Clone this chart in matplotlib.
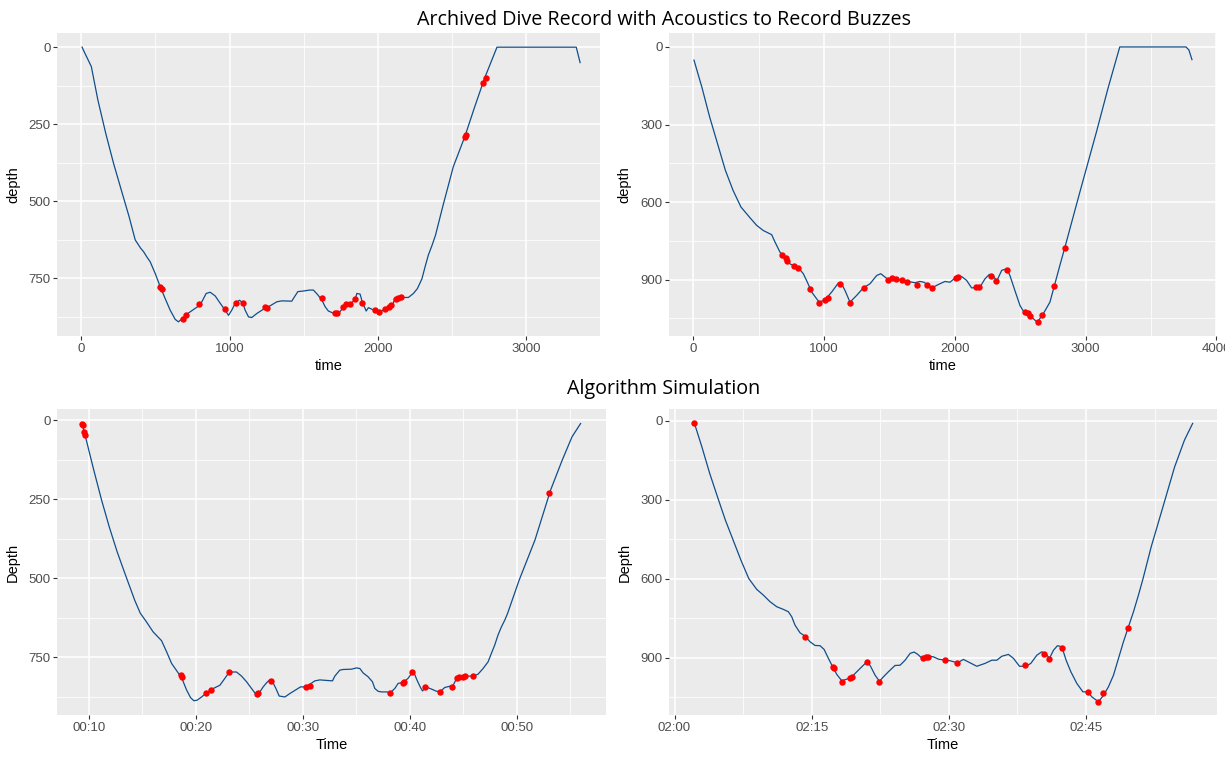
import matplotlib
matplotlib.use("Agg")
import matplotlib.pyplot as plt

plt.rcParams['font.family'] = ['Liberation Sans', 'DejaVu Sans']

# ---------------- data ----------------
# archived dive, seconds vs metres
arch1_t = [5, 12, 67, 111, 164, 217, 269, 322, 363, 401, 419, 441, 464, 498, 532, 565, 599, 633,
           655, 689, 712, 790, 813, 842, 869, 903, 937, 970, 993, 1015, 1038, 1067, 1089, 1105,
           1128, 1150, 1184, 1229, 1274, 1319, 1353, 1420, 1438, 1461, 1499, 1540, 1566, 1593,
           1623, 1645, 1667, 1701, 1735, 1769, 1791, 1825, 1848, 1859, 1881, 1897, 1910, 1922,
           1937, 1960, 1982, 2011, 2043, 2079, 2102, 2113, 2140, 2163, 2207, 2241, 2268, 2298,
           2320, 2342, 2365, 2390, 2440, 2510, 2588, 2655, 2721, 2805, 3195, 3340, 3366]
arch1_d = [0, 8, 63, 171, 279, 377, 463, 550, 625, 653, 663, 680, 696, 734, 777, 815, 853, 883,
           891, 877, 866, 840, 826, 799, 795, 807, 831, 853, 870, 853, 831, 821, 829, 853,
           875, 877, 864, 850, 839, 826, 823, 824, 810, 793, 791, 788, 788, 802,
           820, 842, 856, 863, 864, 844, 831, 829, 818, 799, 801, 829, 842, 856,
           845, 850, 855, 860, 851, 842, 837, 818, 813, 812, 812, 799, 783, 752,
           712, 674, 645, 610, 515, 388, 290, 193, 101, 0, 0, 0, 50]
buzz1_t = [532, 541, 683, 703, 797, 967, 1041, 1088, 1236, 1254, 1621, 1709, 1724, 1769, 1785,
           1810, 1848, 1897, 1979, 2011, 2048, 2079, 2088, 2122, 2136, 2158, 2588, 2595, 2712, 2729]
buzz1_d = [778, 786, 883, 870, 834, 851, 831, 831, 844, 847, 815, 864, 864, 844, 834,
           833, 818, 831, 854, 860, 851, 843, 838, 818, 814, 812, 290, 285, 117, 101]

arch2_t = [5, 65, 125, 185, 245, 304, 364, 434, 484, 535, 599, 625, 663, 701, 739, 803, 841, 872,
           905, 943, 963, 1007, 1058, 1109, 1134, 1160, 1198, 1249, 1300, 1351, 1402, 1433, 1466,
           1491, 1529, 1593, 1644, 1695, 1733, 1764, 1823, 1873, 1924, 1963, 2001, 2052, 2090,
           2128, 2192, 2230, 2263, 2289, 2320, 2358, 2396, 2421, 2459, 2498, 2536, 2587, 2630,
           2676, 2727, 2765, 2803, 2842, 2880, 2918, 2962, 3022, 3082, 3171, 3230, 3261, 3768,
           3790, 3813]
arch2_d = [51, 155, 271, 374, 477, 555, 619, 661, 690, 710, 726, 755, 794, 813, 839, 854, 877, 910,
           948, 974, 987, 978, 948, 913, 916, 942, 987, 961, 932, 916, 884, 877, 890,
           900, 894, 903, 907, 912, 907, 910, 932, 919, 907, 910, 894, 888, 903,
           932, 929, 897, 880, 881, 906, 864, 858, 884, 942, 1000, 1032, 1045, 1065,
           1032, 987, 916, 845, 774, 703, 632, 550, 440, 330, 160, 55, 0, 0,
           12, 49]
buzz2_t = [678, 706, 719, 767, 798, 892, 963, 1009, 1032, 1122, 1201, 1303, 1491, 1517, 1547,
           1593, 1636, 1713, 1789, 1827, 2006, 2021, 2161, 2187, 2278, 2317, 2401, 2536, 2557,
           2577, 2638, 2668, 2760, 2844]
buzz2_d = [806, 815, 826, 849, 854, 935, 990, 978, 970, 916, 990, 932, 900, 894, 897,
           903, 908, 919, 919, 932, 893, 888, 928, 928, 885, 907, 862, 1027, 1030,
           1040, 1063, 1036, 924, 777]

# simulation, minutes after midnight vs metres
sim1_m = [9.35, 9.64, 10.45, 11.18, 11.9, 12.64, 13.36, 14.28, 14.8, 15.33, 16.0, 16.79, 17.26,
          17.73, 18.35, 18.76, 19.13, 19.5, 19.81, 20.12, 20.53, 21.0, 21.47, 21.93, 22.24,
          22.71, 23.02, 23.33, 23.8, 24.27, 24.74, 25.2, 25.6, 25.98, 26.29, 26.61, 26.92,
          27.17, 27.48, 27.79, 28.32, 28.79, 29.41, 29.79, 30.19, 30.65, 31.12, 31.59, 32.77,
          32.99, 33.46, 33.77, 34.55, 35.02, 35.33, 35.64, 36.1, 36.51, 36.73, 37.04, 37.35,
          37.82, 38.2, 38.6, 38.91, 39.38, 39.84, 40.16, 40.4, 40.68, 41.0, 41.19, 41.5, 42.03,
          42.5, 42.87, 43.27, 43.74, 44.05, 44.3, 44.67, 45.3, 45.92, 46.38, 46.85, 47.32,
          47.63, 47.94, 48.25, 48.57, 48.88, 49.14, 50.23, 51.7, 53.16, 54.25, 55.17, 55.97]
sim1_d = [10, 47, 157, 252, 337, 416, 484, 569, 610, 635, 669, 697, 732,
          769, 799, 822, 853, 877, 887, 885, 875, 862, 851, 843, 838,
          816, 801, 796, 796, 809, 827, 848, 866, 859, 843, 830, 820,
          827, 848, 872, 875, 864, 851, 843, 843, 835, 824, 821, 824,
          809, 790, 788, 787, 783, 785, 799, 811, 827, 848, 857, 859,
          859, 861, 848, 832, 829, 816, 801, 799, 822, 845, 856, 843, 850,
          857, 857, 845, 841, 838, 822, 813, 809, 809, 803, 785, 764,
          737, 711, 679, 653, 632, 611, 505, 379, 221, 126, 52, 10]
simbuzz1_m = [9.35, 9.4, 9.53, 9.64, 18.57, 18.66, 20.97, 21.43, 23.06, 25.7, 25.85, 27.04, 30.34,
              30.65, 38.16, 39.38, 39.5, 40.25, 41.43, 42.83, 43.95, 44.45, 44.64, 44.98, 45.14,
              45.92, 53.05]
simbuzz1_d = [10, 15, 38, 47, 804, 811, 862, 854, 797, 866, 862, 823, 845,
              839, 861, 832, 829, 797, 845, 858, 842, 816, 813, 813, 809,
              809, 231]

sim2_m = [122.18, 122.99, 123.85, 124.7, 125.56, 126.41, 127.26, 128.12, 128.99, 129.72, 130.45,
          131.18, 131.9, 132.45, 132.82, 133.18, 133.73, 134.28, 134.82, 135.37, 135.92, 136.36,
          136.83, 137.27, 137.75, 138.29, 138.84, 139.39, 139.93, 140.66, 141.09, 141.47, 141.94,
          142.41, 142.85, 143.39, 144.12, 144.67, 145.22, 145.77, 146.2, 146.57, 147.15, 147.77,
          148.31, 148.86, 149.6, 150.14, 150.94, 151.6, 152.33, 153.06, 153.97, 154.7, 155.25,
          155.8, 156.52, 157.07, 157.73, 158.46, 158.97, 159.63, 160.17, 160.65, 161.01, 161.45,
          161.88, 162.36, 162.83, 163.35, 164.0, 164.66, 165.21, 165.64, 166.37, 166.92, 167.46,
          168.01, 168.56, 169.1, 169.65, 170.2, 170.74, 171.2, 172.14, 173.42, 174.7, 175.78,
          176.67]
sim2_d = [10, 99, 200, 289, 377, 453, 529, 599, 640, 662, 687,
          706, 716, 725, 744, 776, 805, 818, 839, 853, 854, 868,
          902, 932, 963, 987, 981, 972, 953, 928, 913, 934, 966,
          989, 972, 953, 929, 928, 909, 883, 878, 886, 904, 894,
          896, 905, 909, 911, 919, 906, 919, 932, 921, 909, 909,
          894, 887, 902, 932, 932, 921, 890, 877, 886, 902, 871,
          854, 858, 909, 953, 997, 1029, 1029, 1048, 1067, 1042, 1010,
          966, 902, 839, 782, 725, 662, 605, 478, 327, 175, 73,
          10]
simbuzz2_m = [122.18, 134.31, 137.31, 137.4, 138.36, 139.24, 139.39, 141.09, 142.41, 147.22,
              147.52, 147.77, 149.63, 150.94, 158.38, 160.46, 161.01, 162.43, 165.21, 166.37,
              166.81, 169.65]
simbuzz2_d = [10, 820, 933, 937, 990, 978, 973, 914, 990, 902,
              896, 895, 910, 918, 929, 884, 906, 861, 1029, 1066,
              1035, 785]

# axis ticks / labels
tl_xticks = [0, 1000, 2000, 3000]
tl_yticks = [0, 250, 500, 750]
tr_xticks = [0, 1000, 2000, 3000, 4000]
tr_yticks = [0, 300, 600, 900]
bl_xticks = [10, 20, 30, 40, 50]
bl_xlabels = ["00:10", "00:20", "00:30", "00:40", "00:50"]
br_xticks = [120, 135, 150, 165]
br_xlabels = ["02:00", "02:15", "02:30", "02:45"]

title_top = "Archived Dive Record with Acoustics to Record Buzzes"
title_bottom = "Algorithm Simulation"

# ---------------- plotting ----------------
W, H = 1225, 759
fig = plt.figure(figsize=(W / 100, H / 100), dpi=100)


def panel(left, top, right, bottom):
    return fig.add_axes([left / W, 1 - bottom / H, (right - left) / W, (bottom - top) / H])


def style(ax, xlim, ylim, xmaj, xmin, ymaj, ymin, xlab, ylab, xticklabels=None):
    ax.set_facecolor('#EBEBEB')
    for s in ax.spines.values():
        s.set_visible(False)
    ax.set_xlim(*xlim)
    ax.set_ylim(*ylim)
    if xticklabels is None:
        ax.set_xticks(xmaj)
    else:
        ax.set_xticks(xmaj, xticklabels)
    ax.set_yticks(ymaj)
    ax.set_xticks(xmin, minor=True)
    ax.set_yticks(ymin, minor=True)
    ax.grid(which='major', color='white', lw=1.1)
    ax.grid(which='minor', color='white', lw=0.55)
    ax.set_axisbelow(True)
    ax.tick_params(which='major', length=3, width=0.8, color='#333333',
                   labelcolor='#4D4D4D', labelsize=9.5, pad=2)
    ax.tick_params(which='minor', length=0)
    ax.set_xlabel(xlab, fontsize=10.5, color='black')
    ax.set_ylabel(ylab, fontsize=10.5, color='black')
    ax.xaxis.set_label_coords(0.5, -0.075)
    ax.yaxis.set_label_coords(-0.069, 0.5)


line_col = '#104E8B'

ax1 = panel(57.4, 33, 600.4, 336)
ax1.plot(arch1_t, arch1_d, color=line_col, lw=0.9)
ax1.plot(buzz1_t, buzz1_d, 'o', color='red', ms=4.6, mec='none')
style(ax1, (-162, 3503), (937, -46), tl_xticks, [500, 1500, 2500, 3500],
      tl_yticks, [125, 375, 625, 875], 'time', 'depth')

ax2 = panel(669.4, 33, 1216.4, 336)
ax2.plot(arch2_t, arch2_d, color=line_col, lw=0.9)
ax2.plot(buzz2_t, buzz2_d, 'o', color='red', ms=4.6, mec='none')
style(ax2, (-183, 3995), (1118, -54), tr_xticks, [500, 1500, 2500, 3500],
      tr_yticks, [150, 450, 750, 1050], 'time', 'depth')

ax3 = panel(57.4, 409, 605.5, 715)
ax3.plot(sim1_m, sim1_d, color=line_col, lw=0.9)
ax3.plot(simbuzz1_m, simbuzz1_d, 'o', color='red', ms=4.6, mec='none')
style(ax3, (7.05, 58.3), (932, -36), bl_xticks, [15, 25, 35, 45, 55],
      tl_yticks, [125, 375, 625, 875], 'Time', 'Depth', bl_xlabels)

ax4 = panel(669.4, 409, 1216.7, 715)
ax4.plot(sim2_m, sim2_d, color=line_col, lw=0.9)
ax4.plot(simbuzz2_m, simbuzz2_d, 'o', color='red', ms=4.6, mec='none')
style(ax4, (119.44, 179.3), (1117, -44.6), br_xticks, [127.5, 142.5, 157.5, 172.5],
      tr_yticks, [150, 450, 750, 1050], 'Time', 'Depth', br_xlabels)

fig.text(664 / W, 1 - 20 / H, title_top, ha='center', va='center',
         fontsize=14.2, family=['Open Sans', 'DejaVu Sans'])
fig.text(664 / W, 1 - 389 / H, title_bottom, ha='center', va='center',
         fontsize=14.2, family=['Open Sans', 'DejaVu Sans'])

fig.savefig('out.png', dpi=100)
